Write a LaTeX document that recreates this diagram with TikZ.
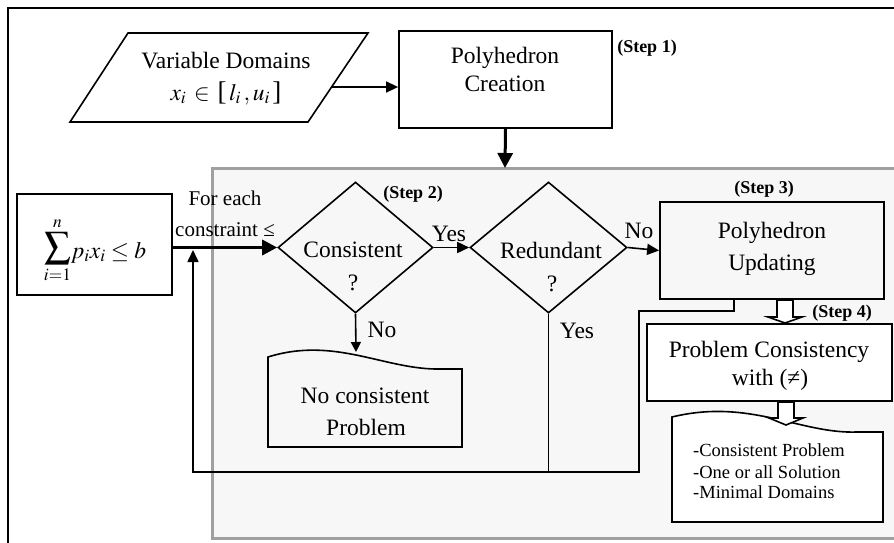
\documentclass[tikz,border=0pt]{standalone}
\usepackage{mathptmx}
\usepackage{fontspec}
\setmainfont{Liberation Serif}
\usetikzlibrary{shapes.geometric,arrows.meta,calc}
\definecolor{panelfill}{HTML}{F7F7F7}
\definecolor{panelline}{HTML}{A0A0A0}
\begin{document}
\begin{tikzpicture}[x=1pt,y=-1pt,
  txt/.style={font=\fontsize{23.5}{28}\selectfont, inner sep=0pt, anchor=base},
  smalltxt/.style={font=\fontsize{18.5}{22}\selectfont, inner sep=0pt, anchor=base west},
  steplbl/.style={font=\fontsize{18}{20}\selectfont\bfseries, inner sep=0pt, anchor=base},
  boxshape/.style={draw, line width=1.8pt, rectangle, inner sep=0pt},
  dia/.style={draw, line width=1.6pt, diamond, inner sep=0pt, minimum width=155pt, minimum height=131pt, fill=panelfill},
  conn/.style={line width=1.6pt},
  arr/.style={line width=1.6pt, -{Triangle[length=12pt,width=11pt]}},
  thickarr/.style={line width=3.3pt, -{Triangle[length=15pt,width=15pt]}},
  blockarr/.style={draw, line width=1.6pt, fill=white, line join=miter},
]
\clip (0,0) rectangle (894,542);
\fill[white] (0,0) rectangle (894,542);
% outer frame
\draw[line width=1.8pt] (8,8) rectangle (910,560);
% grey panel
\draw[panelline, line width=3pt, fill=panelfill] (212,168) rectangle (920,538);

% parallelogram input
\draw[conn, fill=white] (128,33) -- (368,33) -- (308,122) -- (70,122) -- cycle;
\coordinate (parR) at (332,87);
\node[txt] (vd) at (226,68) {Variable Domains};
\node[txt] (vdm) at (226,100) {$x_i \,\in\, \mathopen{\scalebox{1.15}{[}}\,l_i\,,u_i\,\mathclose{\scalebox{1.15}{]}}$};

% Polyhedron creation
\node[boxshape, minimum width=213pt, minimum height=97pt, fill=white] (pc) at (505.5,79.5) {};
\node[txt] (pcA) at (505,63) {Polyhedron};
\node[txt] (pcB) at (505,91) {Creation};
\node[steplbl] (s1) at (647,52) {(Step 1)};
\draw[arr] (parR) -- (parR -| pc.west);
\coordinate (panelTop) at (505,168);
\draw[line width=3pt, -{Triangle[length=15pt,width=15pt]}] (pc.south) -- (panelTop);

% sum box
\node[boxshape, minimum width=155pt, minimum height=101pt, fill=white] (sum) at (94.5,244.5) {};
\node[txt] (sumt) at (95,258) {$\mathop{\scalebox{1.6}{$\sum$}}\limits_{i=1}^{n}\! p_i x_i \le b$};

% diamonds
\node[dia] (con) at (355.5,247.5) {};
\node[txt] (conA) at (353,257) {Consistent};
\node[txt] (conB) at (353,290) {?};
\node[steplbl] (s2) at (413,198) {(Step 2)};
\node[dia, minimum width=157pt] (red) at (548.5,247.5) {};
\node[txt] (redA) at (551,258) {Redundant};
\node[txt] (redB) at (552,291) {?};

\node[txt, font=\fontsize{21}{24}\selectfont] (fe1) at (225,205) {For each};
\node[txt, font=\fontsize{21}{24}\selectfont] (fe2) at (225,236) {constraint ≤};
\draw[thickarr] (sum.east |- con.west) -- (con.west);

\draw[arr] (con.east) -- (red.west);
\node[txt] (yes1) at (449,241) {Yes};

% Polyhedron updating
\node[boxshape, minimum width=224pt, minimum height=97pt, fill=panelfill] (upd) at (772,250.5) {};
\node[txt] (updA) at (772,238) {Polyhedron};
\node[txt] (updB) at (772,270) {Updating};
\node[steplbl] (s3) at (764,193) {(Step 3)};
\draw[arr] (red.east) -- (upd.west);
\node[txt] (no2) at (639,238) {No};

% No consistent document
\draw[conn, fill=panelfill] (268,447) -- (268,357) .. controls (335,336) and (385,370) .. (440,369) -- (462,369) -- (462,447) -- cycle;
\coordinate (d1top) at (356,352);
\node[txt] (ncA) at (365,403) {No consistent};
\node[txt] (ncB) at (366,435) {Problem};
\draw[line width=1.6pt, -{Triangle[length=10pt,width=10pt]}] (con.south) -- (d1top);
\node[txt] (no1) at (382,337) {No};

% loop back
\coordinate (lpA) at (734,311);
\coordinate (lpB) at (639,472);
\coordinate (lpC) at (193,472);
\coordinate (lpD) at (193,250);
\draw[arr] (upd.south -| lpA) -- (lpA) -| (lpB) -- (lpC) -- (lpD);
\draw[conn] (red.south) -- (red.south |- lpC);
\node[txt] (yes2) at (577,338) {Yes};

% problem consistency
\node[boxshape, minimum width=245pt, minimum height=77pt, fill=white] (pcons) at (769.5,362.5) {};
\node[txt] (pconsA) at (769,357) {Problem Consistency};
\node[txt] (pconsB) at (770,385) {with (≠)};
\node[steplbl] (s4) at (842,317) {(Step 4)};

% result document
\draw[conn, fill=white] (672,522) -- (672,417) .. controls (750,398) and (800,434) .. (857,432) -- (883,432) -- (883,522) -- cycle;
\node[smalltxt] (r1) at (693,456) {-Consistent Problem};
\node[smalltxt] (r2) at (693,478) {-One or all Solution};
\node[smalltxt] (r3) at (693,498) {-Minimal Domains};

% block arrows
\draw[blockarr] (777,300) -- (793,300) -- (793,317) -- (802,317) -- (785,323) -- (768,317) -- (777,317) -- cycle;
\draw[blockarr] (778,402) -- (794,402) -- (794,418) -- (803,418) -- (786,425) -- (769,418) -- (778,418) -- cycle;
\end{tikzpicture}
\end{document}
